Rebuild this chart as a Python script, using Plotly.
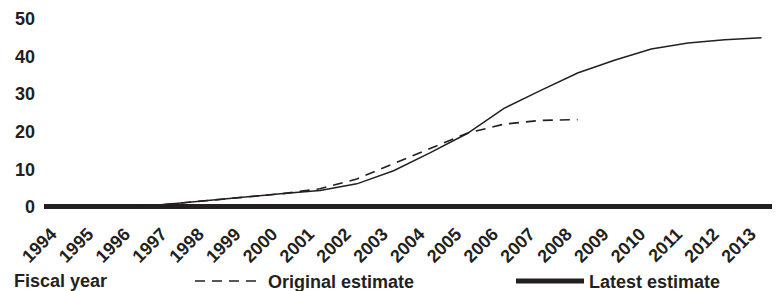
import plotly.graph_objects as go

years = [str(y) for y in range(1994, 2014)]
latest = [0, 0, 0, 0.8, 1.7, 2.8, 3.5, 4.3, 6.1, 9.6, 14.4, 19.5, 26.2, 31.0, 35.6, 39.0, 42.0, 43.6, 44.5, 45.0]
orig_years = [str(y) for y in range(1994, 2009)]
original = [0, 0, 0, 0.8, 1.7, 2.8, 3.5, 4.8, 7.4, 11.5, 15.5, 19.6, 22.0, 23.0, 23.2]
y_ticks = [0, 10, 20, 30, 40, 50]

INK = "#231f20"
FONT = "Liberation Sans, Arial, sans-serif"

# page body adds an 8px offset; figure is sized so it ends at the window edge
W, H = 772, 283
L, T, B = 36, 11, 82.25
PW = W - L
PH = H - T - B

fig = go.Figure()
fig.add_trace(go.Scatter(x=orig_years, y=original, mode="lines", name="Original estimate",
                         line=dict(color=INK, width=1.6, dash="10px,7px")))
fig.add_trace(go.Scatter(x=years, y=latest, mode="lines", name="Latest estimate",
                         showlegend=False, legendgroup="latest",
                         line=dict(color=INK, width=1.5)))
fig.add_trace(go.Scatter(x=[None], y=[None], mode="lines", name="Latest estimate",
                         legendgroup="latest", line=dict(color=INK, width=5)))

leg_y = -(273 - (T + PH)) / PH

fig.update_layout(
    width=W, height=H,
    margin=dict(l=L, r=0, t=T, b=B, pad=0, autoexpand=False),
    plot_bgcolor="white", paper_bgcolor="white",
    font=dict(family=FONT, color=INK, size=17),
    xaxis=dict(type="category", categoryorder="array", categoryarray=years,
               range=[-0.5, 19.5], showgrid=False, zeroline=False, showline=False,
               automargin=False, ticklabelshift=-11, ticklabelstandoff=10,
               tickangle=-45, tickfont=dict(family=FONT, size=18, color=INK, weight="bold"),
               ticks=""),
    yaxis=dict(range=[-0.6, 50], tickvals=y_ticks, showgrid=False, automargin=False,
               zeroline=True, zerolinewidth=5, zerolinecolor=INK,
               showline=False, ticks="", ticklabelstandoff=8,
               tickfont=dict(family=FONT, size=18, color=INK, weight="bold")),
    showlegend=True,
    legend=dict(orientation="h", x=(182 - L) / PW, xanchor="left",
                y=leg_y, yanchor="middle", yref="paper",
                itemwidth=68, entrywidth=238, entrywidthmode="pixels",
                font=dict(family=FONT, size=18, color=INK, weight="bold"),
                bgcolor="rgba(0,0,0,0)", borderwidth=0, tracegroupgap=0),
    annotations=[dict(text="Fiscal year", xref="paper", yref="paper",
                      x=(4 - L) / PW, y=leg_y, xanchor="left", yanchor="middle",
                      showarrow=False, font=dict(family=FONT, size=18, color=INK, weight="bold"))],
)

fig.write_html("out.html")
